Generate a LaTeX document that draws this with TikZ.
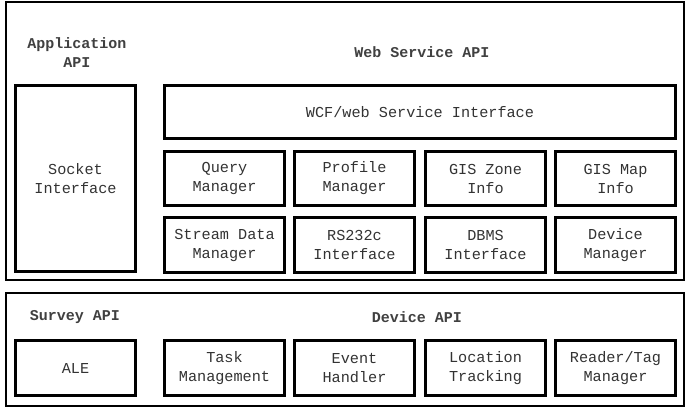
\documentclass[tikz,border=0pt]{standalone}
\usepackage{fontspec}
\setmonofont{Liberation Mono}
\begin{document}
\begin{tikzpicture}[x=1pt,y=-1pt,
  every node/.style={font=\ttfamily\fontsize{15.2}{19}\selectfont, text=black!80, align=center},
  blk/.style={draw=black, line width=3pt, minimum width=120pt, inner sep=0pt},
  outer/.style={draw=black, line width=2pt},
  ttl/.style={font=\ttfamily\bfseries\fontsize{15}{19}\selectfont, text=black!75}]
\useasboundingbox (0,0) rectangle (689,415);
\fill[white] (0,0) rectangle (689,415);
% outer boxes
\node[outer, minimum width=678pt, minimum height=278pt] (top) at (345,141) {};
\node[outer, minimum width=678pt, minimum height=113pt] (bot) at (345,349.5) {};
% titles
\node[ttl] (appapi) at (77,52.5) {Application\\API};
\node[ttl] (wsapi) at (422,52) {Web Service API};
\node[ttl] (survapi) at (75,317) {Survey API};
\node[ttl] (devapi) at (417,317) {Device API};
% top boxes
\node[blk, minimum height=186pt] (sock) at (75.5,178.5) {Socket\\Interface};
\node[blk, minimum width=511pt, minimum height=53pt] (wcf) at (420,112) {WCF/web Service Interface};
\node[blk, minimum height=54pt] (query) at (224.5,178.5) {Query\\Manager};
\node[blk, minimum height=54pt] (prof) at (354.5,178.5) {Profile\\Manager};
\node[blk, minimum height=54pt] (gzone) at (485.5,178.5) {GIS Zone\\Info};
\node[blk, minimum height=54pt] (gmap) at (615.5,178.5) {GIS Map\\Info};
\node[blk, minimum height=55pt] (stream) at (224.5,245) {Stream Data\\Manager};
\node[blk, minimum height=55pt] (rs) at (354.5,245) {RS232c\\Interface};
\node[blk, minimum height=55pt] (dbms) at (485.5,245) {DBMS\\Interface};
\node[blk, minimum height=55pt] (devm) at (615.5,245) {Device\\Manager};
% bottom boxes
\node[blk, minimum height=55pt] (ale) at (75.5,368) {ALE};
\node[blk, minimum height=55pt] (task) at (224.5,368) {Task\\Management};
\node[blk, minimum height=55pt] (event) at (354.5,368) {Event\\Handler};
\node[blk, minimum height=55pt] (loc) at (485.5,368) {Location\\Tracking};
\node[blk, minimum height=55pt] (rtag) at (615.5,368) {Reader/Tag\\Manager};
\end{tikzpicture}
\end{document}
